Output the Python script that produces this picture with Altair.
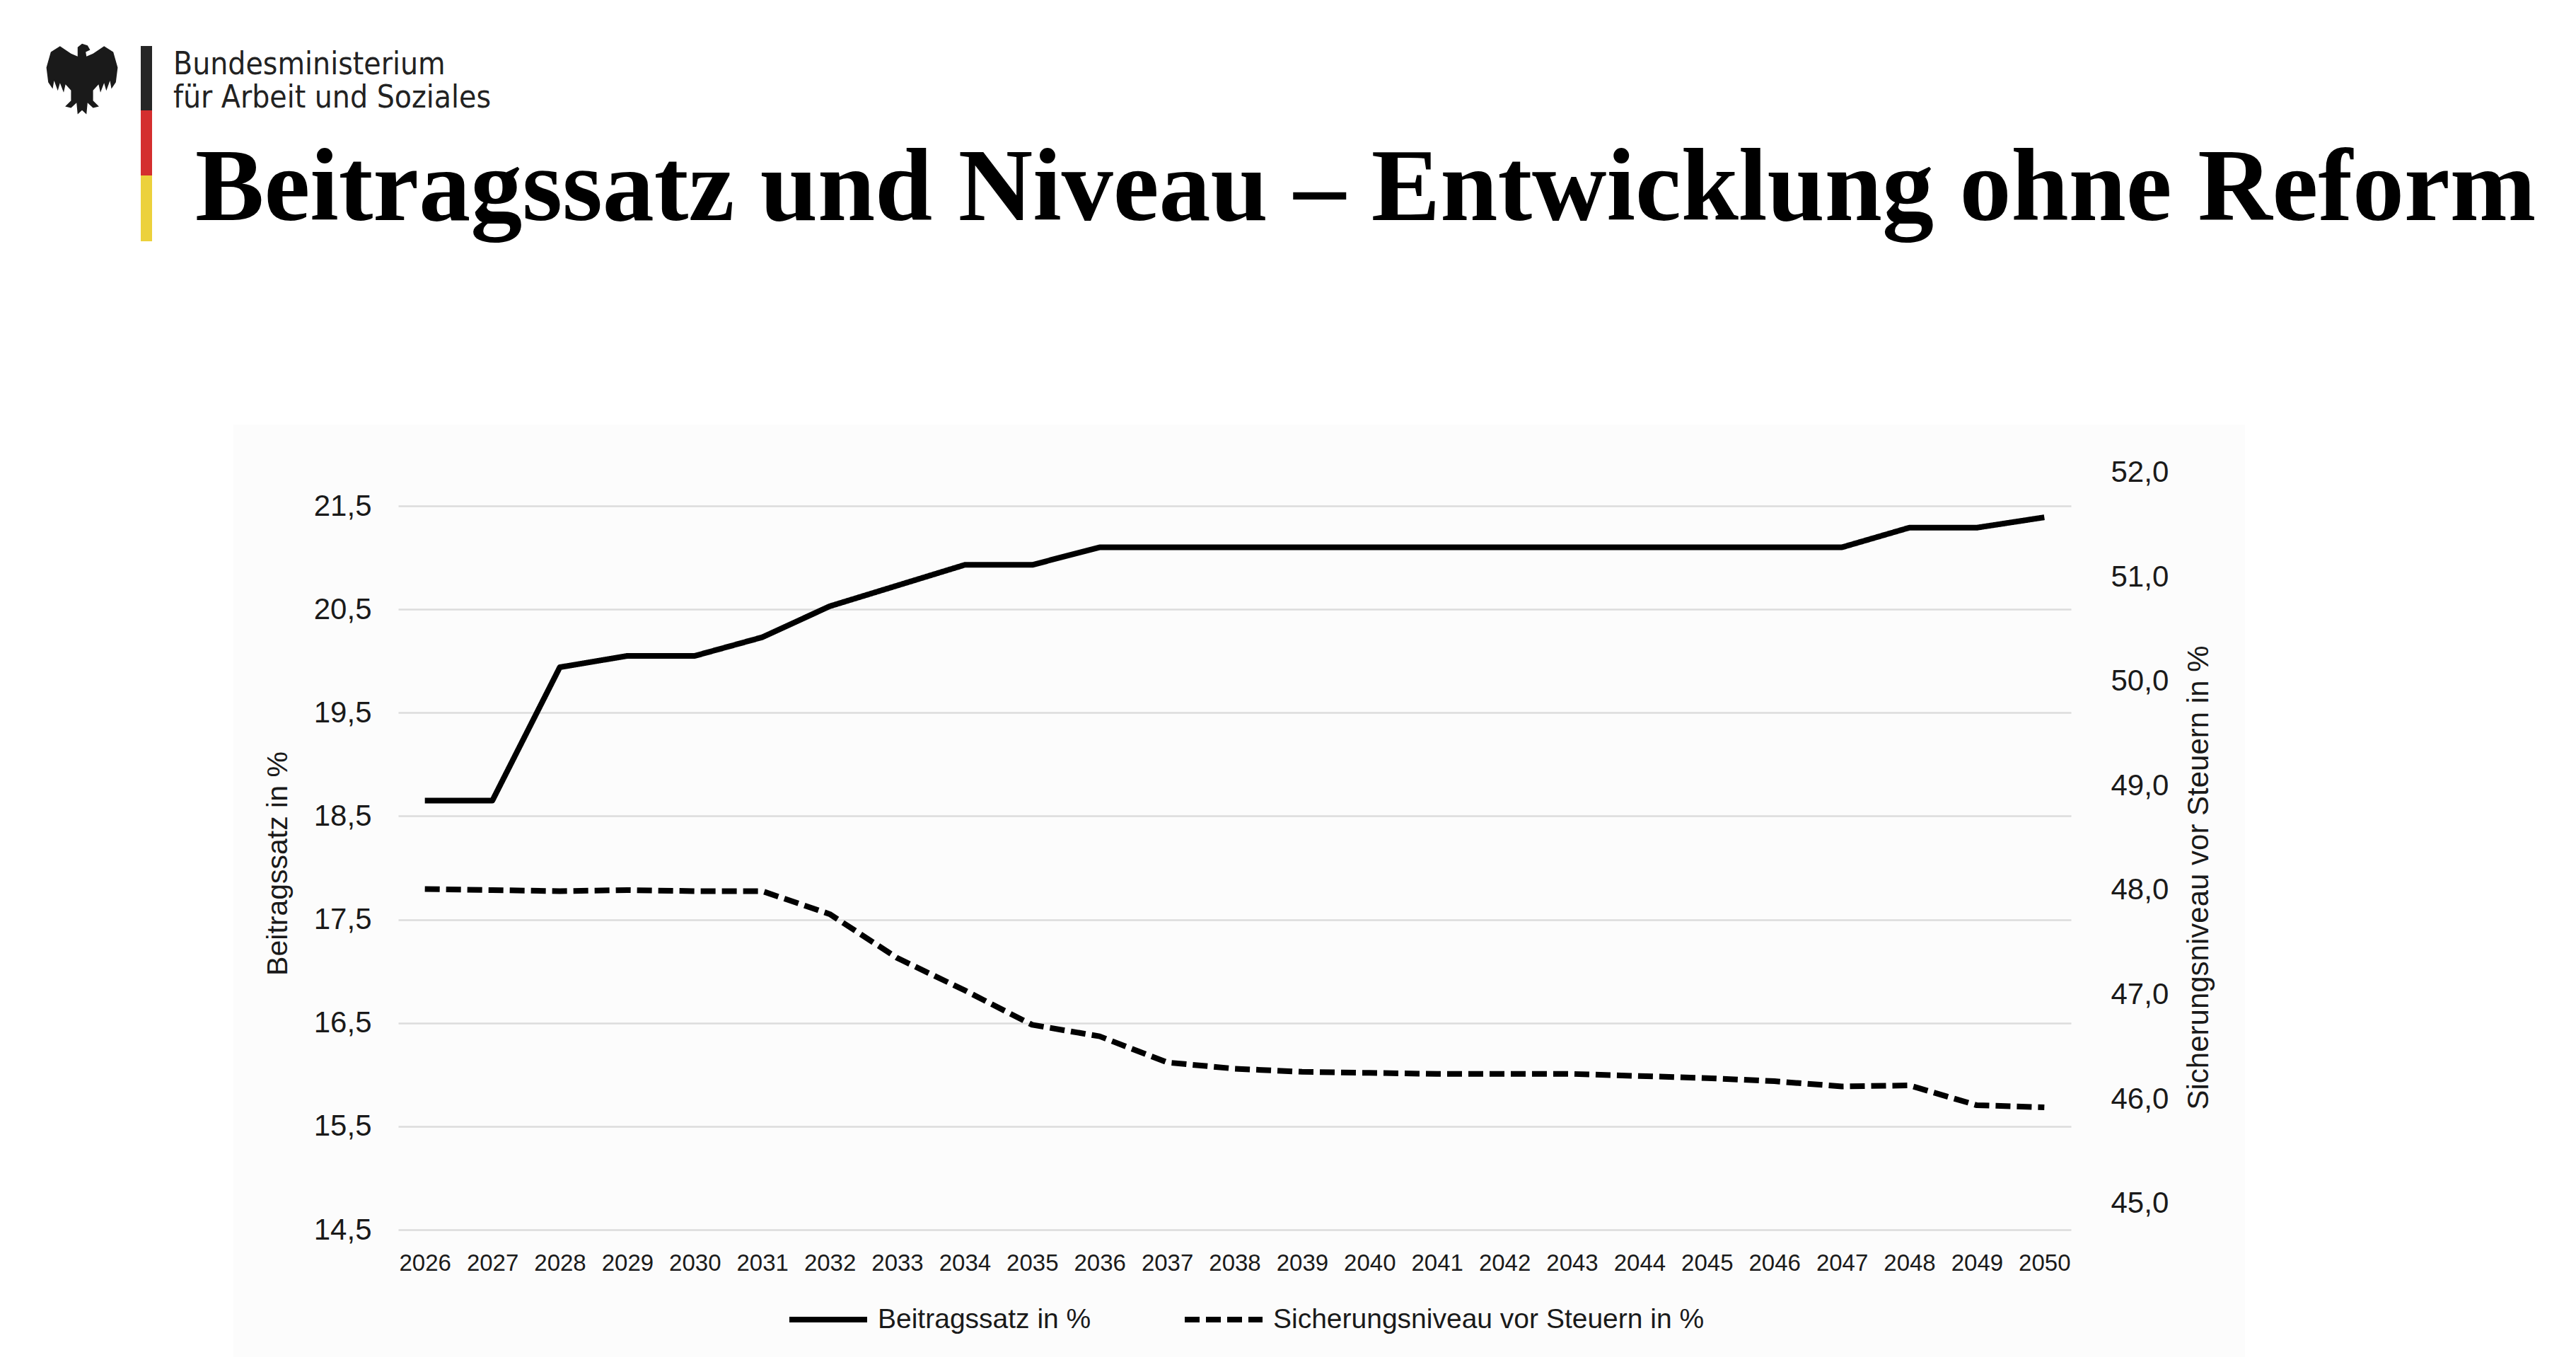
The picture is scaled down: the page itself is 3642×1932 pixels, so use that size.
import altair as alt
import pandas as pd

# Daten
jahre = list(range(2026, 2051))
beitragssatz = [18.65, 18.65, 19.94, 20.05, 20.05, 20.23, 20.53, 20.73, 20.93, 20.93,
                21.10, 21.10, 21.10, 21.10, 21.10, 21.10, 21.10, 21.10, 21.10, 21.10,
                21.10, 21.10, 21.29, 21.29, 21.39]
niveau = [48.01, 48.00, 47.99, 48.00, 47.99, 47.99, 47.77, 47.35, 47.04, 46.71,
          46.60, 46.35, 46.29, 46.26, 46.25, 46.24, 46.24, 46.24, 46.22, 46.20,
          46.17, 46.12, 46.13, 45.94, 45.92]
reihen = ["Beitragssatz in %", "Sicherungsniveau vor Steuern in %"]
ticks_links = [14.5, 15.5, 16.5, 17.5, 18.5, 19.5, 20.5, 21.5]
ticks_rechts = [45.0, 46.0, 47.0, 48.0, 49.0, 50.0, 51.0, 52.0]

titel = "Beitragssatz und Niveau – Entwicklung ohne Reform"
ministerium = ["Bundesministerium", "für Arbeit und Soziales"]

df_b = pd.DataFrame({"Jahr": [str(j) for j in jahre], "Wert": beitragssatz, "Reihe": reihen[0]})
df_n = pd.DataFrame({"Jahr": [str(j) for j in jahre], "Wert": niveau, "Reihe": reihen[1]})
eins = pd.DataFrame({"a": [0]})

SANS = "Liberation Sans, Arial, sans-serif"
NARROW = "Liberation Sans Narrow, DejaVu Sans Condensed, sans-serif"
komma = "replace(format(datum.value, '.1f'), '.', ',')"

x_enc = alt.X("Jahr:O", scale=alt.Scale(type="point", padding=0.395),
              axis=alt.Axis(title=None, labelAngle=0, domain=False, ticks=False, tickSize=0,
                            labelPadding=47, labelBaseline="middle", labelFontSize=33,
                            labelFont=SANS, labelColor="#1a1a1a", grid=False))

dash = alt.StrokeDash("Reihe:N",
                      scale=alt.Scale(domain=reihen, range=[[1, 0], [21, 9]]),
                      legend=alt.Legend(title=None, orient="none", direction="horizontal",
                                        legendX=549, legendY=1164, symbolType="stroke",
                                        symbolSize=12100, symbolStrokeWidth=8,
                                        symbolStrokeColor="black", labelFontSize=39,
                                        labelFont=SANS, labelColor="#1a1a1a", labelLimit=0,
                                        labelOffset=11, columnPadding=116, padding=0))

linie_b = alt.Chart(df_b).mark_line(color="black", strokeWidth=8, strokeJoin="round").encode(
    x=x_enc,
    y=alt.Y("Wert:Q", scale=alt.Scale(domain=[14.5, 22.0], nice=False, zero=False),
            axis=alt.Axis(orient="left", values=ticks_links, labelExpr=komma, grid=True,
                          gridColor="#dcdcdc", gridWidth=2.5, domain=False, ticks=False,
                          tickSize=0, labelPadding=38, labelFontSize=42, labelFont=SANS,
                          labelColor="#1a1a1a", title="Beitragssatz in %", titleFont=SANS,
                          titleFontSize=41, titleFontWeight="normal", titleColor="#1a1a1a",
                          titleAngle=270, titleX=-158, titleY=578, titleAlign="center",
                          titleBaseline="alphabetic")),
    strokeDash=dash,
)

linie_n = alt.Chart(df_n).mark_line(color="black", strokeWidth=8, strokeJoin="round").encode(
    x=x_enc,
    y=alt.Y("Wert:Q", scale=alt.Scale(domain=[44.748, 52.173], nice=False, zero=False),
            axis=alt.Axis(orient="right", values=ticks_rechts, labelExpr=komma, grid=False,
                          domain=False, ticks=False, tickSize=0, labelPadding=56,
                          labelFontSize=42, labelFont=SANS, labelColor="#1a1a1a",
                          title="Sicherungsniveau vor Steuern in %", titleFont=SANS,
                          titleFontSize=42, titleFontWeight="normal", titleColor="#1a1a1a",
                          titleAngle=270, titleX=193, titleY=598, titleAlign="center",
                          titleBaseline="alphabetic")),
    strokeDash=dash,
)


def rechteck(x1, x2, y1, y2, farbe):
    return alt.Chart(eins).mark_rect(color=farbe).encode(
        x=alt.value(x1), x2=alt.value(x2), y=alt.value(y1), y2=alt.value(y2))


def text(t, x, y, groesse, font, gewicht="normal", farbe="#1a1a1a"):
    return alt.Chart(eins).mark_text(align="left", baseline="alphabetic", font=font,
                                     fontSize=groesse, fontWeight=gewicht, color=farbe).encode(
        x=alt.value(x), y=alt.value(y), text=alt.value(t))


# weiße Flächen außerhalb des grauen Diagrammbereichs
weiss = [
    rechteck(-600, 3200, -700, -42, "white"),
    rechteck(-600, -233, -42, 1400, "white"),
    rechteck(2611, 3200, -42, 1400, "white"),
]

# Kopfzeile: Adler, Flaggenbalken, Ministerium, Titel
adler_pfad = ("M0,-0.95 L0.15,-0.9 L0.22,-0.78 L0.1,-0.72 L0.12,-0.6 L0.3,-0.68 L0.6,-0.88 "
              "L0.85,-0.72 L0.97,-0.3 L0.92,0.1 L0.8,0.28 L0.76,0.06 L0.66,0.33 L0.6,0.12 "
              "L0.5,0.38 L0.45,0.16 L0.3,0.32 L0.3,0.6 L0.46,0.76 L0.3,0.8 L0.15,0.66 "
              "L0.12,0.97 L0,0.86 L-0.12,0.97 L-0.15,0.66 L-0.3,0.8 L-0.46,0.76 L-0.3,0.6 "
              "L-0.3,0.32 L-0.45,0.16 L-0.5,0.38 L-0.6,0.12 L-0.66,0.33 L-0.76,0.06 "
              "L-0.8,0.28 L-0.92,0.1 L-0.97,-0.3 L-0.85,-0.72 L-0.6,-0.88 L-0.3,-0.68 "
              "L-0.12,-0.6 L-0.12,-0.85 Z")
adler = alt.Chart(eins).mark_point(shape=adler_pfad, filled=True, color="#1a1a1a",
                                   opacity=1, size=10800).encode(
    x=alt.value(-447), y=alt.value(-531))

kopf = [
    adler,
    rechteck(-364, -348, -577, -486, "#262626"),
    rechteck(-364, -348, -486, -394, "#d42e2e"),
    rechteck(-364, -348, -394, -301, "#ecd13b"),
    text(ministerium[0], -318, -537, 44, NARROW, farbe="#222222"),
    text(ministerium[1], -318, -490, 44, NARROW, farbe="#222222"),
    text(titel, -287, -331, 146, "Liberation Serif, Times New Roman, serif", "bold", "black"),
]

chart = alt.layer(*weiss, linie_b, linie_n, *kopf).resolve_scale(
    y="independent"
).properties(
    width=2365,
    height=1096,
    autosize=alt.AutoSizeParams(type="none"),
    padding={"left": 555, "top": 634, "right": 700, "bottom": 180},
    background="#fcfcfc",
).configure_view(strokeWidth=0)

chart.save("out.html", embed_options={"renderer": "svg", "actions": False})
